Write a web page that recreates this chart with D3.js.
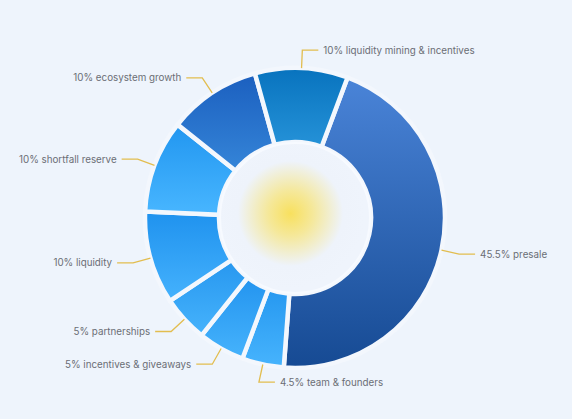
<!DOCTYPE html>
<html>
<head>
<meta charset="utf-8">
<script src="https://cdn.jsdelivr.net/npm/d3@7"></script>
<style>
  html, body { margin: 0; padding: 0; background: #eef4fc; }
  svg { display: block; }
</style>
</head>
<body>
<svg id="chart"></svg>
<script>
// allocation data, clockwise from the presale slice
const labels = ['presale', 'team & founders', 'incentives & giveaways', 'partnerships',
                'liquidity', 'shortfall reserve', 'ecosystem growth', 'liquidity mining & incentives'];
const shares = [45.5, 4.5, 5, 5, 10, 10, 10, 10];
const topColors = ['#4a84d8', '#2698f0', '#2394ef', '#2797ef', '#1f92ee', '#2196f0', '#1b5fbf', '#0873be'];
const bottomColors = ['#164a93', '#47b4fd', '#46b3fc', '#46b3fc', '#45b2fd', '#48b6ff', '#3585d8', '#2592d8'];

const width = 572, height = 419;
const cx = 295, cy = 218;
const outerR = 150, innerR = 76;

const svg = d3.select('#chart')
  .attr('width', width)
  .attr('height', height);

const defs = svg.append('defs');

// one vertical gradient per slice
labels.forEach((l, i) => {
  const g = defs.append('linearGradient')
    .attr('id', 'grad' + i)
    .attr('x1', 0).attr('y1', 0)
    .attr('x2', 0).attr('y2', 1);
  g.append('stop').attr('offset', '0%').attr('stop-color', topColors[i]);
  g.append('stop').attr('offset', '100%').attr('stop-color', bottomColors[i]);
});

const glow = defs.append('radialGradient')
  .attr('id', 'glow')
  .attr('cx', '47%').attr('cy', '47%').attr('r', '50%');
glow.append('stop').attr('offset', '0%').attr('stop-color', '#f8e05e');
glow.append('stop').attr('offset', '30%').attr('stop-color', '#f5e89a');
glow.append('stop').attr('offset', '70%').attr('stop-color', '#eef3fb');
glow.append('stop').attr('offset', '100%').attr('stop-color', '#eff4fc');

const data = labels.map((l, i) => ({ label: l, value: shares[i], idx: i }));

const startDeg = 20.5;
const pie = d3.pie()
  .value(d => d.value)
  .sort(null)
  .startAngle(startDeg * Math.PI / 180)
  .endAngle((startDeg + 360) * Math.PI / 180);

const arc = d3.arc()
  .innerRadius(innerR)
  .outerRadius(outerR);

const g = svg.append('g')
  .attr('transform', `translate(${cx},${cy})`);

const arcs = pie(data);

g.selectAll('path.slice')
  .data(arcs)
  .enter()
  .append('path')
  .attr('class', 'slice')
  .attr('d', arc)
  .attr('fill', d => `url(#grad${d.data.idx})`)
  .attr('stroke', '#f3f7fd')
  .attr('stroke-width', 4.5)
  .attr('stroke-linejoin', 'round');

// centre disc with the yellow glow
g.append('circle')
  .attr('r', innerR - 1)
  .attr('fill', 'url(#glow)')
  .attr('stroke', '#f7faff')
  .attr('stroke-width', 2);

// leader lines and labels
const elbowR = outerR + 18;
const run = 16;

const labelG = g.append('g');

arcs.forEach(d => {
  const mid = (d.startAngle + d.endAngle) / 2;
  const sx = Math.sin(mid), sy = -Math.cos(mid);
  const p0 = [sx * outerR, sy * outerR];
  const p1 = [sx * elbowR, sy * elbowR];
  const right = sx > -0.3;
  const p2 = [p1[0] + (right ? run : -run), p1[1]];

  labelG.append('polyline')
    .attr('points', [p0, p1, p2].map(p => p.join(',')).join(' '))
    .attr('fill', 'none')
    .attr('stroke', '#e2bd4f')
    .attr('stroke-width', 1.3);

  labelG.append('text')
    .attr('x', p2[0] + (right ? 5 : -5))
    .attr('y', p2[1])
    .attr('dy', '0.35em')
    .attr('text-anchor', right ? 'start' : 'end')
    .attr('font-family', 'Inter, "Open Sans", sans-serif')
    .attr('font-size', 9.8)
    .attr('fill', '#6b6e75')
    .text(`${d.data.value}% ${d.data.label}`);
});
</script>
</body>
</html>
